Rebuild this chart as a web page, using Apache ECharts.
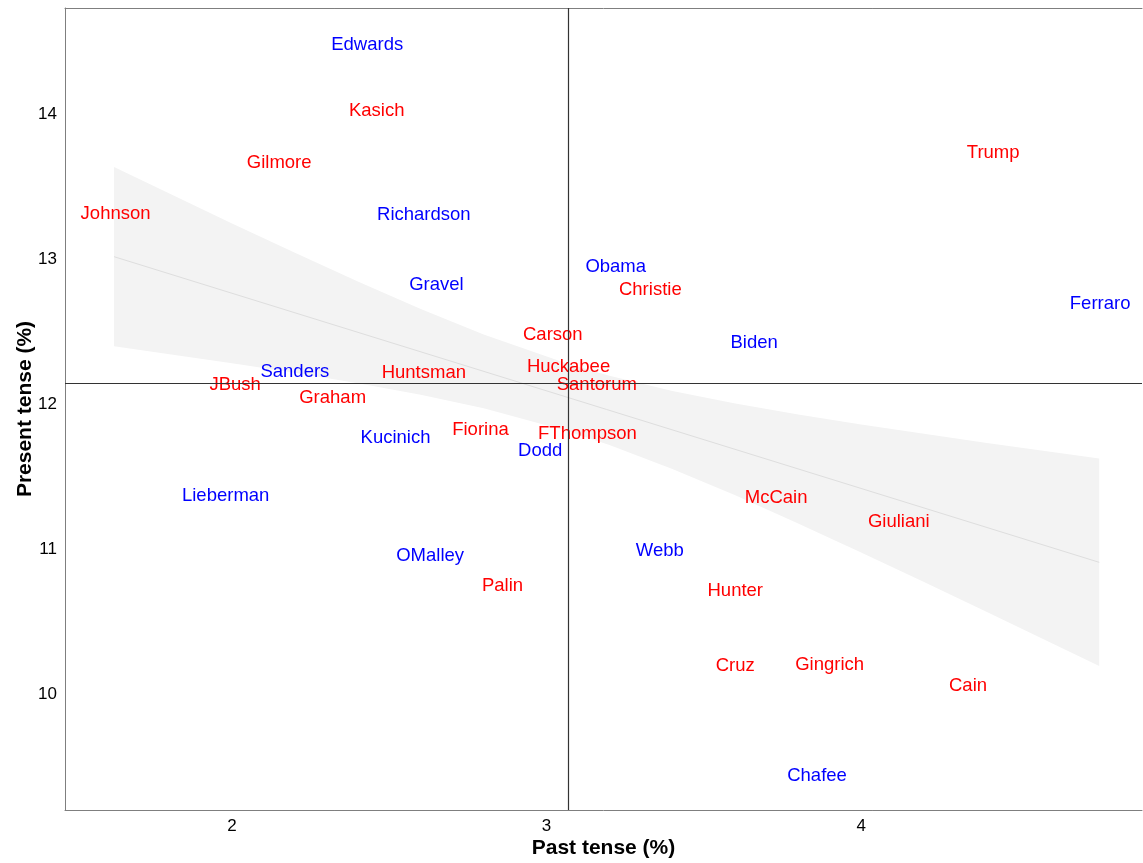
<!DOCTYPE html>
<html>
<head>
<meta charset="utf-8">
<script src="https://cdn.jsdelivr.net/npm/echarts@6/dist/echarts.min.js"></script>
<style>
html,body{margin:0;padding:0;background:#fff;}
#chart{width:1143px;height:863px;}
</style>
</head>
<body>
<div id="chart"></div>
<script>
// ---- data ----
const names = ["Edwards","Kasich","Gilmore","Johnson","Richardson","Trump","Obama","Christie","Ferraro","Gravel","Carson","Biden","Sanders","Huntsman","Huckabee","JBush","Santorum","Graham","Fiorina","FThompson","Kucinich","Dodd","Lieberman","McCain","Giuliani","OMalley","Webb","Palin","Hunter","Cruz","Gingrich","Cain","Chafee"];
const pastTense = [2.43,2.46,2.15,1.63,2.61,4.42,3.22,3.33,4.76,2.65,3.02,3.66,2.20,2.61,3.07,2.01,3.16,2.32,2.79,3.13,2.52,2.98,1.98,3.73,4.12,2.63,3.36,2.86,3.60,3.60,3.90,4.34,3.86];
const presentTense = [14.48,14.03,13.67,13.32,13.31,13.74,12.95,12.79,12.70,12.83,12.48,12.43,12.23,12.22,12.26,12.14,12.14,12.05,11.83,11.80,11.77,11.68,11.37,11.36,11.19,10.96,10.99,10.75,10.72,10.20,10.21,10.06,9.44];
const party = ["D","R","R","R","D","R","D","R","D","D","R","D","D","R","R","R","R","R","R","R","D","D","D","R","R","D","D","R","R","R","R","R","D"];

// smoothed fit line and confidence band
const fitX = [1.625, 4.757];
const fitY = [13.016, 10.908];
const bandX     = [1.625, 2.0, 2.2, 2.4, 2.6, 2.8, 3.06, 3.2, 3.4, 3.6, 3.8, 4.0, 4.2, 4.4, 4.757];
const bandUpper = [13.634,13.245,13.043,12.845,12.656,12.480,12.282,12.195,12.090,12.004,11.928,11.858,11.794,11.731,11.624];
const bandLower = [12.398,12.281,12.215,12.143,12.064,11.970,11.818,11.717,11.552,11.370,11.176,10.976,10.772,10.565,10.193];

// reference lines
const refX = 3.07;
const refY = 12.145;

// axes
const xTicks = [2, 3, 4];
const yTicks = [10, 11, 12, 13, 14];
const xRange = [1.469, 4.893];
const yRange = [9.2, 14.731];

const partyColor = {R: '#ff0000', D: '#0000ff'};
const FONT = 'Liberation Sans, Arial, Helvetica, sans-serif';

const labelData = names.map((n, i) => ({
  name: n,
  value: [pastTense[i], presentTense[i]],
  label: {color: partyColor[party[i]]}
}));

const chart = echarts.init(document.getElementById('chart'), null, {renderer: 'canvas'});
chart.setOption({
  animation: false,
  backgroundColor: '#ffffff',
  grid: {left: 65, right: 1, top: 8, bottom: 53, containLabel: false, outerBoundsMode: 'none'},
  xAxis: [{
    type: 'value', min: xRange[0], max: xRange[1],
    name: 'Past tense (%)', nameLocation: 'middle', nameGap: 28, nameMoveOverlap: false,
    nameTextStyle: {fontFamily: FONT, fontSize: 21, fontWeight: 'bold', color: '#000'},
    axisLine: {show: true, lineStyle: {color: '#7f7f7f', width: 1}},
    axisTick: {show: false},
    splitLine: {show: false},
    axisLabel: {customValues: xTicks, fontFamily: FONT, fontSize: 17, color: '#000', margin: 8}
  }, {
    type: 'value', min: xRange[0], max: xRange[1], position: 'top',
    axisLine: {show: true, onZero: false, lineStyle: {color: '#7f7f7f', width: 1}},
    axisTick: {show: false}, axisLabel: {show: false}, splitLine: {show: false}
  }],
  yAxis: {
    type: 'value', min: yRange[0], max: yRange[1],
    name: 'Present tense (%)', nameLocation: 'middle', nameGap: 29, nameRotate: 90, nameMoveOverlap: false,
    nameTextStyle: {fontFamily: FONT, fontSize: 21, fontWeight: 'bold', color: '#000'},
    axisLine: {show: true, lineStyle: {color: '#7f7f7f', width: 1}},
    axisTick: {show: false},
    splitLine: {show: false},
    axisLabel: {customValues: yTicks, fontFamily: FONT, fontSize: 17, color: '#000', margin: 8}
  },
  series: [
    {
      type: 'custom', z: 1, silent: true, clip: true,
      data: [[bandX[0], bandUpper[0]]],
      renderItem: function (params, api) {
        if (params.dataIndex !== 0) return;
        const pts = [];
        for (let i = 0; i < bandX.length; i++) pts.push(api.coord([bandX[i], bandUpper[i]]));
        for (let i = bandX.length - 1; i >= 0; i--) pts.push(api.coord([bandX[i], bandLower[i]]));
        return {type: 'polygon', shape: {points: pts, smooth: 0}, style: {fill: '#f3f3f3'}};
      }
    },
    {
      type: 'line', z: 2, data: [], silent: true,
      markLine: {
        silent: true, symbol: ['none', 'none'], label: {show: false},
        lineStyle: {color: '#333333', width: 1.2, type: 'solid'},
        data: [{xAxis: refX}, {yAxis: refY}]
      }
    },
    {
      type: 'line', z: 3, silent: true, showSymbol: false, symbol: 'none',
      data: fitX.map((x, i) => [x, fitY[i]]),
      lineStyle: {color: '#dedede', width: 1}
    },
    {
      type: 'scatter', z: 4, silent: true,
      symbolSize: 0.1,
      itemStyle: {color: 'rgba(0,0,0,0)'},
      data: labelData,
      label: {
        show: true, position: [0, 0], align: 'center', verticalAlign: 'middle',
        offset: [0, 1],
        formatter: '{b}', textBorderWidth: 0, opacity: 1,
        fontFamily: FONT, fontSize: 18.5
      }
    }
  ]
});
</script>
</body>
</html>
